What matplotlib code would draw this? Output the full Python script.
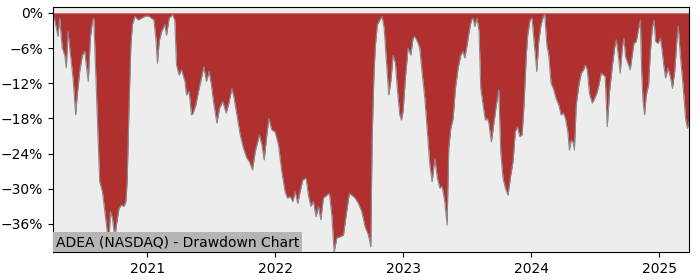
"""Drawdown chart for ADEA (NASDAQ)."""
import datetime as dt
import matplotlib
matplotlib.use("Agg")
import matplotlib.pyplot as plt
import matplotlib.dates as mdates
from matplotlib.ticker import FuncFormatter, MultipleLocator

TITLE = "ADEA (NASDAQ) - Drawdown Chart"

# time as decimal years
years = [
    2020.266, 2020.279, 2020.305, 2020.318, 2020.338, 2020.357, 2020.370, 2020.383,
    2020.396, 2020.422, 2020.443, 2020.453, 2020.474, 2020.495, 2020.513, 2020.526,
    2020.541, 2020.557, 2020.573, 2020.584, 2020.594, 2020.604, 2020.617, 2020.630,
    2020.651, 2020.670, 2020.688, 2020.701, 2020.713, 2020.729, 2020.748, 2020.760,
    2020.781, 2020.799, 2020.818, 2020.834, 2020.844, 2020.859, 2020.873, 2020.885,
    2020.904, 2020.930, 2020.955, 2020.982, 2021.008, 2021.034, 2021.052, 2021.068,
    2021.080, 2021.094, 2021.112, 2021.138, 2021.151, 2021.172, 2021.198, 2021.216,
    2021.229, 2021.250, 2021.268, 2021.295, 2021.307, 2021.328, 2021.346, 2021.359,
    2021.380, 2021.406, 2021.424, 2021.443, 2021.463, 2021.484, 2021.502, 2021.518,
    2021.545, 2021.565, 2021.591, 2021.617, 2021.635, 2021.662, 2021.680, 2021.701,
    2021.727, 2021.752, 2021.779, 2021.799, 2021.823, 2021.844, 2021.877, 2021.896,
    2021.914, 2021.935, 2021.951, 2021.974, 2022.000, 2022.026, 2022.052, 2022.078,
    2022.096, 2022.117, 2022.138, 2022.156, 2022.177, 2022.195, 2022.216, 2022.242,
    2022.260, 2022.279, 2022.299, 2022.320, 2022.338, 2022.357, 2022.377, 2022.404,
    2022.424, 2022.443, 2022.461, 2022.482, 2022.508, 2022.534, 2022.555, 2022.580,
    2022.599, 2022.625, 2022.651, 2022.677, 2022.703, 2022.729, 2022.748, 2022.758,
    2022.773, 2022.784, 2022.799, 2022.818, 2022.836, 2022.852, 2022.870, 2022.888,
    2022.904, 2022.922, 2022.940, 2022.955, 2022.974, 2022.987, 2023.000, 2023.018,
    2023.039, 2023.060, 2023.078, 2023.091, 2023.112, 2023.130, 2023.148, 2023.170,
    2023.190, 2023.209, 2023.227, 2023.248, 2023.268, 2023.287, 2023.305, 2023.326,
    2023.344, 2023.357, 2023.373, 2023.391, 2023.409, 2023.430, 2023.451, 2023.469,
    2023.482, 2023.500, 2023.516, 2023.534, 2023.547, 2023.560, 2023.578, 2023.594,
    2023.607, 2023.625, 2023.643, 2023.659, 2023.670, 2023.690, 2023.711, 2023.729,
    2023.748, 2023.763, 2023.781, 2023.799, 2023.820, 2023.838, 2023.859, 2023.877,
    2023.893, 2023.912, 2023.930, 2023.945, 2023.963, 2023.974, 2023.992, 2024.008,
    2024.026, 2024.045, 2024.060, 2024.078, 2024.096, 2024.107, 2024.123, 2024.138,
    2024.156, 2024.174, 2024.195, 2024.216, 2024.234, 2024.252, 2024.268, 2024.287,
    2024.299, 2024.313, 2024.326, 2024.338, 2024.352, 2024.373, 2024.391, 2024.409,
    2024.424, 2024.438, 2024.455, 2024.477, 2024.495, 2024.513, 2024.529, 2024.547,
    2024.565, 2024.578, 2024.594, 2024.612, 2024.633, 2024.651, 2024.664, 2024.680,
    2024.695, 2024.711, 2024.724, 2024.737, 2024.755, 2024.773, 2024.789, 2024.802,
    2024.820, 2024.834, 2024.852, 2024.862, 2024.873, 2024.885, 2024.898, 2024.916,
    2024.930, 2024.945, 2024.959, 2024.971, 2024.990, 2025.008, 2025.021, 2025.034,
    2025.049, 2025.068, 2025.086, 2025.102, 2025.120, 2025.138, 2025.148, 2025.164,
    2025.185, 2025.205, 2025.219, 2025.232,
]

# drawdown in percent
drawdown = [
    -0.3, -1.2, -4.0, -0.9, -6.0, -7.2, -9.4, -3.2,
    -6.0, -11.1, -17.4, -14.5, -10.0, -7.2, -6.6, -8.9,
    -11.7, -4.3, -1.5, -0.9, -7.2, -13.4, -21.3, -28.8,
    -30.5, -33.9, -37.3, -39.6, -33.9, -35.0, -38.4, -36.2,
    -33.3, -32.8, -33.0, -32.2, -28.8, -15.7, -5.5, -2.0,
    -0.6, -1.2, -0.9, -0.6, -0.5, -0.9, -1.2, -4.3,
    -8.6, -4.9, -3.2, -2.0, -3.8, -0.9, -0.3, -1.2,
    -8.9, -10.6, -9.7, -11.7, -14.0, -13.4, -17.4, -17.1,
    -15.7, -12.9, -11.1, -9.2, -11.7, -10.0, -12.3, -15.1,
    -18.8, -16.3, -15.1, -17.1, -15.7, -12.9, -14.6, -17.4,
    -20.8, -23.1, -24.8, -25.4, -26.8, -23.7, -20.8, -22.5,
    -25.1, -20.8, -18.0, -20.0, -20.3, -22.5, -27.1, -30.5,
    -31.6, -31.3, -32.2, -30.5, -32.5, -30.5, -28.5, -28.2,
    -31.1, -33.0, -32.2, -34.8, -33.0, -35.3, -31.6, -31.1,
    -30.8, -34.5, -40.8, -38.4, -38.2, -37.9, -34.5, -30.8,
    -31.1, -31.6, -32.5, -33.9, -36.5, -37.9, -39.9, -21.4,
    -10.0, -5.5, -2.0, -1.2, -0.6, -2.6, -8.3, -14.0,
    -11.7, -7.2, -8.6, -12.9, -17.4, -18.3, -16.8, -11.1,
    -6.0, -7.2, -4.3, -4.0, -4.9, -6.0, -10.0, -14.6,
    -20.3, -25.9, -28.8, -24.8, -28.2, -29.9, -29.6, -32.2,
    -36.2, -23.1, -19.7, -18.0, -12.9, -9.4, -7.2, -6.6,
    -7.7, -5.5, -3.2, -1.2, -0.9, -2.3, -0.9, -3.2,
    -12.9, -15.7, -18.3, -18.0, -18.8, -22.0, -18.6, -15.7,
    -13.1, -23.7, -28.2, -29.9, -31.1, -28.2, -25.4, -20.3,
    -19.4, -21.1, -20.8, -15.7, -7.2, -3.8, -1.2, -0.9,
    -5.5, -10.0, -4.9, -2.0, -0.6, -0.3, -5.5, -7.2,
    -12.0, -12.9, -14.6, -15.7, -17.4, -17.1, -18.0, -20.3,
    -23.4, -21.7, -22.0, -23.4, -15.7, -12.3, -10.3, -9.7,
    -8.9, -9.7, -13.7, -15.4, -14.6, -13.7, -12.3, -10.3,
    -10.6, -10.9, -19.4, -13.4, -9.2, -6.0, -4.6, -7.2,
    -10.3, -6.0, -4.3, -7.5, -8.6, -9.7, -7.2, -5.2,
    -4.9, -3.2, -1.2, -10.0, -15.1, -17.4, -14.0, -12.3,
    -6.6, -2.6, -1.2, -4.9, -5.2, -4.3, -6.3, -8.9,
    -11.1, -9.4, -10.9, -12.9, -10.0, -4.3, -2.3, -7.2,
    -12.3, -18.0, -19.7, -18.6,
]


def to_date(y):
    """Decimal year -> datetime."""
    start = dt.datetime(int(y), 1, 1)
    length = (dt.datetime(int(y) + 1, 1, 1) - start).days
    return start + dt.timedelta(days=(y - int(y)) * length)


dates = [to_date(y) for y in years]

fig = plt.figure(figsize=(7, 2.8), dpi=100)
ax = fig.add_axes([0.0757, 0.1, 0.9086, 0.875])
ax.set_facecolor("#ededed")

ax.fill_between(dates, drawdown, 0, color="#b03030", linewidth=0)
ax.plot(dates, drawdown, color="#8a8a8a", linewidth=0.8)

ax.set_xlim(dates[0], dates[-1])
ax.set_ylim(min(drawdown), 1.0)

ax.yaxis.set_major_locator(MultipleLocator(6))
ax.yaxis.set_major_formatter(
    FuncFormatter(lambda v, pos: f"{v:.0f}%".replace("-", "\u2212")))
ax.xaxis.set_major_locator(mdates.YearLocator())
ax.xaxis.set_major_formatter(mdates.DateFormatter("%Y"))
ax.tick_params(labelsize=10)

ax.text(0.005, 0.012, TITLE, transform=ax.transAxes, ha="left", va="bottom",
        fontsize=10, color="black",
        bbox=dict(facecolor="#b5b5b5", edgecolor="none", pad=2))

fig.savefig("out.png")
